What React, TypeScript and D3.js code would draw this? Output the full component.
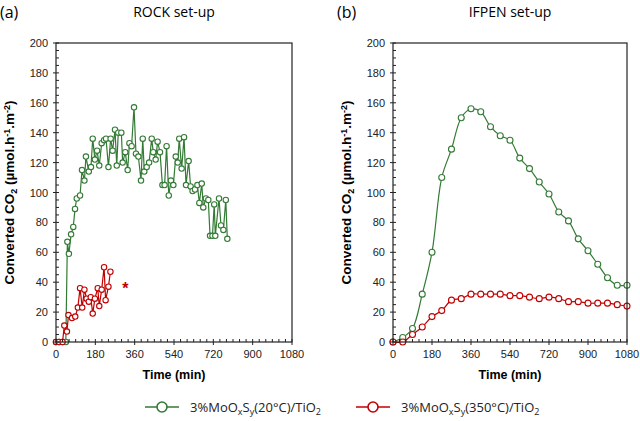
import * as d3 from "d3"

// ROCK set-up (a)
const rockGreenTime = [0, 14, 30, 45, 52, 59, 69, 79, 87, 95, 110, 119, 130, 137, 150, 160, 168, 178, 188, 198, 209, 220, 229, 240, 250, 259, 270, 278, 285, 299, 305, 317, 328, 336, 346, 357, 366, 377, 389, 397, 404, 415, 426, 438, 445, 456, 465, 476, 487, 497, 506, 516, 526, 537, 548, 557, 564, 575, 586, 595, 607, 616, 625, 636, 647, 656, 667, 674, 686, 697, 705, 716, 724, 729, 746, 755, 766, 777, 784]
const rockGreenValue = [0, 0, 0, 0, 67, 59, 72, 77, 89, 96, 98, 115, 108, 124, 114, 117, 136, 122, 128, 118, 133, 135, 136, 117, 136, 128, 142, 118, 140, 140, 120, 127, 115, 133, 131, 157, 126, 124, 108, 136, 114, 117, 120, 136, 127, 122, 134, 127, 105, 105, 131, 98, 108, 105, 124, 120, 136, 116, 137, 105, 121, 104, 101, 102, 105, 93, 106, 90, 96, 95, 71, 71, 92, 71, 96, 78, 75, 95, 69]
const rockRedTime = [0, 14, 30, 38, 50, 57, 73, 88, 100, 110, 120, 130, 140, 150, 159, 168, 178, 191, 198, 209, 220, 227, 240, 249]
const rockRedValue = [0, 0, 0, 11, 7, 18, 16, 17, 23, 36, 23, 35, 29, 27, 30, 19, 29, 36, 24, 35, 50, 28, 37, 47]
const rockStar = { t: 317, v: 37 }

// IFPEN set-up (b)
const ifpenTime = [0, 45, 90, 135, 180, 225, 270, 315, 360, 405, 450, 495, 540, 585, 630, 675, 720, 765, 810, 855, 900, 945, 990, 1035, 1080]
const ifpenGreen = [0, 3, 9, 32, 60, 110, 129, 150, 156, 154, 144, 138, 135, 123, 116, 107, 99, 87, 81, 69, 61, 52, 43, 38, 38]
const ifpenRed = [0, 0, 5, 10, 17, 21, 28, 29, 32, 32, 32, 32, 31, 31, 30, 29, 30, 29, 27, 27, 26, 26, 26, 25, 24]

const xTicks = [0, 180, 360, 540, 720, 900, 1080]
const yTicks = [0, 20, 40, 60, 80, 100, 120, 140, 160, 180, 200]

const GREEN = "#337a35"
const RED = "#c00000"
const TICK_FONT = "'Liberation Sans', Arial, sans-serif"
const TITLE_FONT = "'Open Sans', 'Noto Sans', sans-serif"

type Series = { t: number[]; v: number[]; color: string }

function Panel({ x0, x1, tag, title, series, star, smooth }: { x0: number; x1: number; tag: string; title: string; series: Series[]; star?: { t: number; v: number }; smooth?: boolean }) {
  const y0 = 43
  const y1 = 342
  const x = d3.scaleLinear().domain([0, 1080]).range([x0, x1])
  const y = d3.scaleLinear().domain([0, 200]).range([y1, y0])
  const line = d3.line<[number, number]>().x(d => x(d[0])).y(d => y(d[1]))
  if (smooth) line.curve(d3.curveCatmullRom.alpha(0.5))
  const minorX = d3.range(0, 1081, 30).filter(t => t % 180 !== 0)
  const minorY = d3.range(0, 201, 5).filter(v => v % 20 !== 0)

  return (
    <g>
      <text x={x0 - 56} y={18} fontFamily={TITLE_FONT} fontSize={16}>{tag}</text>
      <text x={(x0 + x1) / 2} y={17} textAnchor="middle" fontFamily={TITLE_FONT} fontSize={14}>{title}</text>

      {series.map((s, i) => {
        const pts = s.t.map((t, j) => [t, s.v[j]] as [number, number])
        return (
          <g key={i}>
            <path d={line(pts) ?? ""} fill="none" stroke={s.color} strokeWidth={1.2} />
            {pts.map((p, j) => (
              <circle key={j} cx={x(p[0])} cy={y(p[1])} r={smooth ? 3 : 2.7} fill="white" stroke={s.color} strokeWidth={1.1} />
            ))}
          </g>
        )
      })}
      {star && (
        <text x={x(star.t)} y={y(star.v) + 7} textAnchor="middle" fill={RED} fontFamily={TICK_FONT} fontWeight="bold" fontSize={16}>*</text>
      )}

      <rect x={x0} y={y0} width={x1 - x0} height={y1 - y0} fill="none" stroke="#222" strokeWidth={1.2} />

      {xTicks.map(t => (
        <g key={t}>
          <line x1={x(t)} x2={x(t)} y1={y1 - 3} y2={y1 + 3} stroke="#222" />
          <text x={x(t)} y={358} textAnchor="middle" fontFamily={TICK_FONT} fontSize={11} fill="#222">{t}</text>
        </g>
      ))}
      {minorX.map(t => (
        <line key={t} x1={x(t)} x2={x(t)} y1={y1} y2={y1 - 3} stroke="#222" />
      ))}
      {yTicks.map(v => (
        <g key={v}>
          <line x1={x0 - 3} x2={x0 + 3} y1={y(v)} y2={y(v)} stroke="#222" />
          <text x={x0 - 8} y={y(v) + 4} textAnchor="end" fontFamily={TICK_FONT} fontSize={11} fill="#222">{v}</text>
        </g>
      ))}
      {minorY.map(v => (
        <line key={v} x1={x0} x2={x0 + 3} y1={y(v)} y2={y(v)} stroke="#222" />
      ))}

      <text x={(x0 + x1) / 2} y={379} textAnchor="middle" fontFamily={TICK_FONT} fontWeight="bold" fontSize={12.5}>Time (min)</text>
      <text transform={`translate(${x0 - 42},${(y0 + y1) / 2}) rotate(-90)`} textAnchor="middle" fontFamily={TICK_FONT} fontWeight="bold" fontSize={13.5}>
        Converted CO<tspan fontSize={9} dy={3}>2</tspan><tspan dy={-3}> (µmol.h</tspan><tspan fontSize={9} dy={-4}>-1</tspan><tspan dy={4}>.m</tspan><tspan fontSize={9} dy={-4}>-2</tspan><tspan dy={4}>)</tspan>
      </text>
    </g>
  )
}

function LegendItem({ cx, color, label, temp }: { cx: number; color: string; label: string; temp: string }) {
  const yy = 407
  return (
    <g>
      <line x1={cx - 17} x2={cx + 17} y1={yy} y2={yy} stroke={color} strokeWidth={1.6} />
      <circle cx={cx} cy={yy} r={5} fill="white" stroke={color} strokeWidth={1.6} />
      <text x={cx + 28} y={yy + 5} fontFamily={TITLE_FONT} fontSize={13} fill="#222">
        {label}MoO<tspan fontSize={9} dy={3}>x</tspan><tspan dy={-3}>S</tspan><tspan fontSize={9} dy={3}>y</tspan><tspan dy={-3}>({temp})/TiO</tspan><tspan fontSize={9} dy={3}>2</tspan>
      </text>
    </g>
  )
}

export default function App() {
  return (
    <svg width={640} height={421} style={{ position: "absolute", left: 0, top: 0, background: "white" }}>
      <Panel x0={56} x1={292} tag="(a)" title="ROCK set-up"
        series={[{ t: rockGreenTime, v: rockGreenValue, color: GREEN }, { t: rockRedTime, v: rockRedValue, color: RED }]}
        star={rockStar} />
      <Panel x0={393} x1={627} tag="(b)" title="IFPEN set-up" smooth
        series={[{ t: ifpenTime, v: ifpenGreen, color: GREEN }, { t: ifpenTime, v: ifpenRed, color: RED }]} />
      <LegendItem cx={162} color={GREEN} label="3%" temp="20°C" />
      <LegendItem cx={373} color={RED} label="3%" temp="350°C" />
    </svg>
  )
}
